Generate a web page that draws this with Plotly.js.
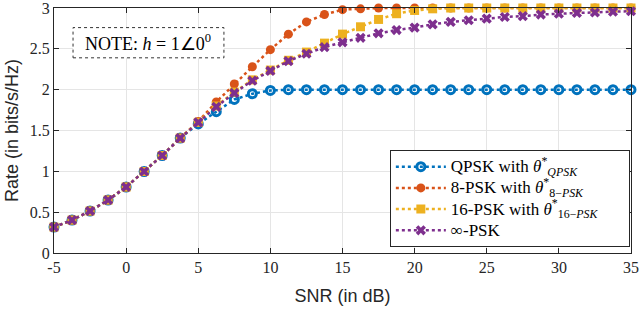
<!DOCTYPE html>
<html>
<head>
<meta charset="utf-8">
<script src="https://cdn.plot.ly/plotly-3.0.1.min.js"></script>
<style>html,body{margin:0;padding:0;background:#fff;}#chart{width:640px;height:309px;}</style>
</head>
<body>
<div id="chart"></div>
<script>
// SNR grid (dB)
const snr = [-5,-3.75,-2.5,-1.25,0,1.25,2.5,3.75,5,6.25,7.5,8.75,10,11.25,12.5,13.75,15,16.25,17.5,18.75,20,21.25,22.5,23.75,25,26.25,27.5,28.75,30,31.25,32.5,33.75,35];

const rateQPSK = [0.317,0.403,0.514,0.649,0.808,0.998,1.194,1.407,1.58,1.73,1.88,1.95,1.99,2.0,2.0,2.0,2.0,2.0,2.0,2.0,2.0,2.0,2.0,2.0,2.0,2.0,2.0,2.0,2.0,2.0,2.0,2.0,2.0];
const rate8PSK = [0.317,0.403,0.514,0.649,0.808,0.998,1.194,1.407,1.61,1.85,2.07,2.28,2.49,2.68,2.83,2.92,2.98,2.99,3.0,3.0,3.0,3.0,3.0,3.0,3.0,3.0,3.0,3.0,3.0,3.0,3.0,3.0,3.0];
const rate16PSK = [0.317,0.403,0.514,0.649,0.808,0.998,1.194,1.407,1.60,1.80,1.97,2.12,2.24,2.36,2.46,2.57,2.68,2.77,2.86,2.93,2.97,2.99,3.0,3.0,3.0,3.0,3.0,3.0,3.0,3.0,3.0,3.0,3.0];
const rateInfPSK = [0.317,0.403,0.514,0.649,0.808,0.998,1.194,1.407,1.60,1.79,1.96,2.11,2.23,2.35,2.44,2.52,2.58,2.635,2.69,2.73,2.76,2.80,2.83,2.85,2.87,2.89,2.90,2.92,2.93,2.94,2.945,2.955,2.96];

const seriesNames = [
  'QPSK with <i>θ</i><sup>*</sup><sub><i>QPSK</i></sub>',
  '8-PSK with <i>θ</i><sup>*</sup><sub>8−<i>PSK</i></sub>',
  '16-PSK with <i>θ</i><sup>*</sup><sub>16−<i>PSK</i></sub>\u00a0\u00a0\u00a0\u00a0\u00a0\u00a0',
  '∞-PSK'
];
const xTicks = [-5,0,5,10,15,20,25,30,35];
const yTicks = [0,0.5,1,1.5,2,2.5,3];
const noteText = 'NOTE: <i>h</i> = 1∠0<sup>0</sup>';

const cBlue='#0072BD', cOrange='#D95319', cYellow='#EDB120', cPurple='#7E2F8E';

const wrap = s => '<span style="font-size:17px">' + s + '</span>';

const traces = [
  {x:snr,y:rateQPSK,name:wrap(seriesNames[0]),mode:'lines+markers',cliponaxis:false,
   line:{color:cBlue,width:2.5,dash:'dot'},
   marker:{symbol:'circle-open',size:8,color:cBlue,line:{width:3,color:cBlue}}},
  {x:snr,y:rate8PSK,name:wrap(seriesNames[1]),mode:'lines+markers',cliponaxis:false,
   line:{color:cOrange,width:2.5,dash:'dot'},
   marker:{symbol:'circle',size:9,color:cOrange}},
  {x:snr,y:rate16PSK,name:wrap(seriesNames[2]),mode:'lines+markers',cliponaxis:false,
   line:{color:cYellow,width:2.5,dash:'dot'},
   marker:{symbol:'square',size:9,color:cYellow}},
  {x:snr,y:rateInfPSK,name:wrap(seriesNames[3]),mode:'lines+markers',cliponaxis:false,
   line:{color:cPurple,width:2.5,dash:'dot'},
   marker:{symbol:'x',size:9,color:cPurple}}
];

const serif = 'Liberation Serif, serif';
const axisCommon = {
  showline:true, mirror:'ticks', linecolor:'#262626', linewidth:1,
  ticks:'inside', ticklen:5, tickcolor:'#262626',
  showgrid:true, gridcolor:'#e5e5e5', gridwidth:1, zeroline:false,
  ticklabeloverflow:'allow',
  tickfont:{family:serif,size:16,color:'#262626'}
};

const layout = {
  width:640, height:309,
  margin:{l:54,r:9,t:8,b:56},
  paper_bgcolor:'#fff', plot_bgcolor:'#fff',
  showlegend:true,
  xaxis:Object.assign({}, axisCommon, {range:[-5,35], tickvals:xTicks, ticktext:xTicks.map(String),
    title:{text:'SNR (in dB)', font:{family:'Liberation Sans, Arial, sans-serif',size:18,color:'#262626'}, standoff:14}}),
  yaxis:Object.assign({}, axisCommon, {range:[0,3], tickvals:yTicks, ticktext:yTicks.map(String),
    title:{text:'Rate (in bits/s/Hz)', font:{family:'Liberation Sans, Arial, sans-serif',size:18,color:'#262626'}, standoff:6}}),
  legend:{x:0.998, xanchor:'right', y:0.42, yanchor:'top',
    bgcolor:'#fff', bordercolor:'#262626', borderwidth:1,
    font:{family:serif,size:14,color:'#000'}, itemwidth:50, tracegroupgap:0},
  shapes:[{type:'rect', xref:'x', yref:'y', x0:-3.68, x1:6.78, y0:2.39, y1:2.76,
    line:{color:'#333', width:1, dash:'dot'}, fillcolor:'#fff', layer:'above'}],
  annotations:[{xref:'x', yref:'y', x:1.55, y:2.575, text:noteText, showarrow:false,
    font:{family:serif,size:18,color:'#000'}, xanchor:'center', yanchor:'middle'}]
};

Plotly.newPlot('chart', traces, layout, {displayModeBar:false, staticPlot:true});
</script>
</body>
</html>
